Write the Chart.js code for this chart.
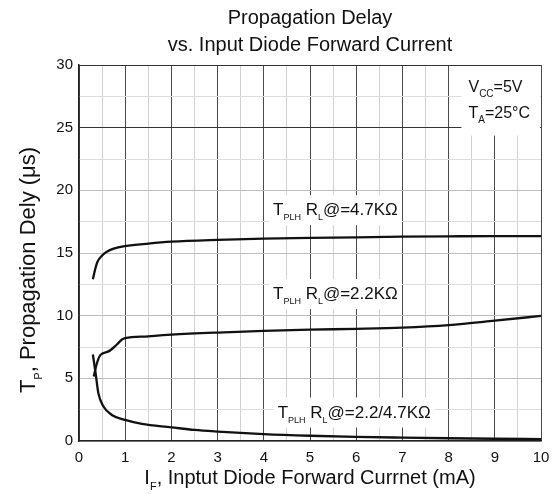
<!DOCTYPE html>
<html>
<head>
<meta charset="utf-8">
<script src="https://cdn.jsdelivr.net/npm/chart.js@4/dist/chart.umd.min.js"></script>
<style>
  body { margin: 0; background: #fff; }
  canvas { display: block; }
</style>
</head>
<body>
<canvas id="delayChart" width="552" height="495"></canvas>
<script>
// Curve data (IF in mA, delay in us)
const ifPlh47 = [0.3, 0.35, 0.4, 0.5, 0.6, 0.75, 1, 1.5, 2, 3, 4, 5, 6, 7, 8, 9, 10];
const tPlh47 = [12.9, 13.7, 14.3, 14.8, 15.1, 15.35, 15.55, 15.75, 15.9, 16.05, 16.15, 16.2, 16.25, 16.3, 16.33, 16.35, 16.35];

const ifPlh22 = [0.32, 0.38, 0.46, 0.64, 0.82, 0.93, 1, 1.5, 2, 3, 4, 5, 6, 7, 8, 9, 10];
const tPlh22 = [5.15, 6.1, 6.85, 7.15, 7.7, 8.1, 8.2, 8.35, 8.48, 8.65, 8.78, 8.88, 8.95, 9.05, 9.25, 9.6, 9.98];

const ifBoth = [0.3, 0.36, 0.42, 0.53, 0.71, 1, 1.36, 2, 2.5, 3, 4, 5, 6, 7, 8, 9, 10];
const tBoth = [6.9, 5.4, 3.8, 2.75, 2.08, 1.68, 1.36, 1.09, 0.88, 0.75, 0.55, 0.42, 0.33, 0.27, 0.22, 0.18, 0.15];

const titleLines = ['Propagation Delay', 'vs. Input Diode Forward Current'];
const xTickStep = 0.5;
const yTickStep = 2.5;

// rich text parts: [text, isSubscript]
const curveLabels = [
    { x: 4.2, y: 18.5, parts: [['T', 0], ['PLH', 1], [' R', 0], ['L', 1], ['@=4.7KΩ', 0]] },
    { x: 4.2, y: 11.8, parts: [['T', 0], ['PLH', 1], [' R', 0], ['L', 1], ['@=2.2KΩ', 0]] },
    { x: 4.3, y: 2.35, parts: [['T', 0], ['PLH', 1], [' R', 0], ['L', 1], ['@=2.2/4.7KΩ', 0]] }
];
const condLabels = [
    { x: 8.43, y: 28.3, parts: [['V', 0], ['CC', 1], ['=5V', 0]] },
    { x: 8.43, y: 26.2, parts: [['T', 0], ['A', 1], ['=25°C', 0]] }
];
const xTitle = [['I', 0], ['F', 1], [', Inptut Diode Forward Currnet (mA)', 0]];
const yTitle = [['T', 0], ['P', 1], [', Propagation Dely (μs)', 0]];

const FONT = '"Liberation Sans", Arial, sans-serif';
const INK = '#111';

function toPoints(xs, ys) {
    return xs.map((x, i) => ({ x: x, y: ys[i] }));
}

function richWidth(ctx, parts, size, subSize) {
    let w = 0;
    parts.forEach(p => {
        ctx.font = (p[1] ? subSize : size) + 'px ' + FONT;
        w += ctx.measureText(p[0]).width;
    });
    return w;
}

// x = left edge, y = vertical middle of main text
function drawRich(ctx, x, y, parts, size, subSize) {
    const base = y + size * 0.36;
    ctx.textBaseline = 'alphabetic';
    ctx.textAlign = 'left';
    ctx.fillStyle = INK;
    parts.forEach(p => {
        ctx.font = (p[1] ? subSize : size) + 'px ' + FONT;
        ctx.fillText(p[0], x, p[1] ? base + size * 0.3 : base);
        x += ctx.measureText(p[0]).width;
    });
}

const textPlugin = {
    id: 'textPlugin',
    beforeDatasetsDraw(chart) {
        const ctx = chart.ctx;
        const xs = chart.scales.x;
        const ys = chart.scales.y;
        const area = chart.chartArea;
        ctx.save();

        // curve labels sit on white patches over the grid
        curveLabels.forEach(l => {
            const px = xs.getPixelForValue(l.x);
            const py = ys.getPixelForValue(l.y);
            const w = richWidth(ctx, l.parts, 17, 9);
            ctx.fillStyle = '#fff';
            ctx.fillRect(px - 4, py - 14, w + 8, 30);
            drawRich(ctx, px, py, l.parts, 17, 9);
        });

        // test conditions box, top right
        const cx = xs.getPixelForValue(condLabels[0].x);
        const cy = ys.getPixelForValue(condLabels[1].y);
        ctx.fillStyle = '#fff';
        ctx.fillRect(cx - 7, area.top + 1, area.right - cx + 6, cy + 22 - area.top);
        condLabels.forEach(l => {
            drawRich(ctx, xs.getPixelForValue(l.x), ys.getPixelForValue(l.y), l.parts, 16, 10);
        });
        ctx.restore();
    },
    afterDraw(chart) {
        const ctx = chart.ctx;
        const area = chart.chartArea;
        ctx.save();
        // x axis title
        let w = richWidth(ctx, xTitle, 20, 11);
        drawRich(ctx, (area.left + area.right) / 2 - w / 2, 477, xTitle, 20, 11);
        // y axis title, rotated
        w = richWidth(ctx, yTitle, 22, 11);
        ctx.translate(27, 270);
        ctx.rotate(-Math.PI / 2);
        drawRich(ctx, -w / 2, 0, yTitle, 22, 11);
        ctx.restore();
    }
};

const lineStyle = {
    borderColor: '#111',
    borderWidth: 2.3,
    pointRadius: 0,
    fill: false,
    cubicInterpolationMode: 'monotone'
};

new Chart(document.getElementById('delayChart'), {
    type: 'line',
    data: {
        datasets: [
            Object.assign({ label: 'TPLH 4.7K', data: toPoints(ifPlh47, tPlh47) }, lineStyle),
            Object.assign({ label: 'TPLH 2.2K', data: toPoints(ifPlh22, tPlh22) }, lineStyle),
            Object.assign({ label: 'TPLH 2.2/4.7K', data: toPoints(ifBoth, tBoth) }, lineStyle)
        ]
    },
    options: {
        responsive: false,
        animation: false,
        layout: { padding: { left: 0, right: 11, top: 0, bottom: 0 } },
        plugins: {
            legend: { display: false },
            tooltip: { enabled: false },
            title: {
                display: true,
                text: titleLines,
                fullSize: false,
                color: INK,
                font: { family: FONT, size: 20, weight: 'normal', lineHeight: 1.35 },
                padding: { top: 5, bottom: 6 }
            }
        },
        scales: {
            x: {
                type: 'linear',
                min: 0,
                max: 10,
                afterFit: s => { s.height = 54; s.paddingLeft = 0; s.paddingRight = 0; },
                border: { color: '#222', width: 1.5 },
                grid: {
                    drawTicks: false,
                    color: c => (c.tick.value % 1 === 0 ? '#4a4a4a' : '#d2d2d2'),
                    lineWidth: 1
                },
                ticks: {
                    stepSize: xTickStep,
                    padding: 8,
                    color: INK,
                    font: { family: FONT, size: 15 },
                    callback: v => (v % 1 === 0 ? v : '')
                }
            },
            y: {
                min: 0,
                max: 30,
                afterFit: s => { s.width = 79; s.paddingTop = 0; s.paddingBottom = 0; },
                border: { color: '#222', width: 1.5 },
                grid: {
                    drawTicks: false,
                    color: c => {
                        const v = c.tick.value;
                        if (v === 25 || v === 30) return '#333';
                        return v % 5 === 0 ? '#bdbdbd' : '#dcdcdc';
                    },
                    lineWidth: 1
                },
                ticks: {
                    stepSize: yTickStep,
                    padding: 6,
                    color: INK,
                    font: { family: FONT, size: 15 },
                    callback: v => (v % 5 === 0 ? v : '')
                }
            }
        }
    },
    plugins: [textPlugin]
});
</script>
</body>
</html>
